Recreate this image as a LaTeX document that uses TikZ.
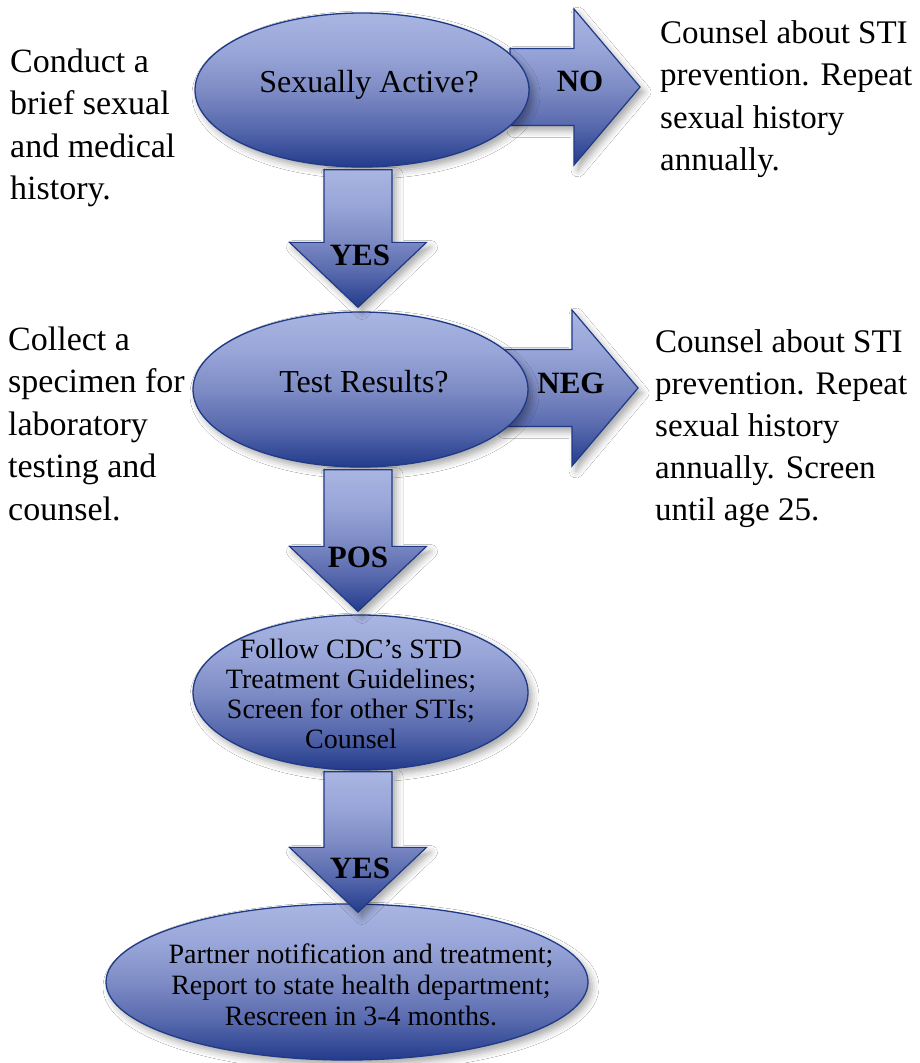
\documentclass[tikz,border=0pt]{standalone}
\usepackage{fontspec}
\setmainfont{Liberation Serif}
\usetikzlibrary{shapes.geometric,calc,shadows.blur}
\definecolor{gA}{HTML}{A9B5E1}
\definecolor{gB}{HTML}{98A5D8}
\definecolor{gC}{HTML}{7E8CC5}
\definecolor{gD}{HTML}{5567AC}
\definecolor{gE}{HTML}{233B8B}
\definecolor{bord}{HTML}{1F3A86}
\pgfdeclareverticalshading{bluegrad}{100bp}{color(0bp)=(gE); color(25bp)=(gE); color(37bp)=(gD); color(50bp)=(gC); color(62bp)=(gB); color(75bp)=(gA); color(100bp)=(gA)}
\tikzset{
  myshadow/.style={blur shadow={shadow xshift=4pt, shadow yshift=-5pt, shadow blur radius=7pt, shadow opacity=35}},
  ell/.style={ellipse, draw=bord, line width=1.3pt, shade, shading=bluegrad, inner sep=0pt, myshadow},
  block/.style={draw=bord, line width=1.2pt, line join=miter, shade, shading=bluegrad, myshadow},
  side/.style={anchor=north west, inner sep=0pt, align=left, font=\fontsize{34}{42.5}\selectfont},
  lab/.style={anchor=base, inner sep=0pt, font=\fontsize{31}{31}\selectfont\bfseries},
  etxt/.style={anchor=base, inner sep=0pt, font=\fontsize{32}{32}\selectfont},
  mtxt/.style={anchor=north, inner sep=0pt, align=center},
}
\newcommand\downblock[2]{%
  \path[block] let \p1=#1, \p2=#2 in
    (\x1-34pt,\y1) -- (\x1+34pt,\y1) -- (\x1+34pt,\y2+65pt) -- (\x1+68.5pt,\y2+65pt)
    -- (\x1,\y2) -- (\x1-68.5pt,\y2+65pt) -- (\x1-34pt,\y2+65pt) -- cycle;}
\newcommand\rightblock[2]{%
  \path[block] let \p1=#1, \p2=#2 in
    (\x1,\y1+38.5pt) -- (\x2-66pt,\y1+38.5pt) -- (\x2-66pt,\y1+78pt) -- (\x2,\y1)
    -- (\x2-66pt,\y1-78pt) -- (\x2-66pt,\y1-38.5pt) -- (\x1,\y1-38.5pt) -- cycle;}
\begin{document}
\begin{tikzpicture}[x=1pt,y=-1pt]
\fill[white] (0,0) rectangle (919,1063);
\useasboundingbox (0,0) rectangle (919,1063);

% ellipse centres
\coordinate (c1) at (362,90);
\coordinate (c2) at (360.5,389.5);
\coordinate (c3) at (360.5,692.5);
\coordinate (c4) at (347,982);

% sideways block arrows (drawn first, behind the ellipses)
\rightblock{($(c1)+(148,-3)$)}{($(c1)+(278,-3)$)}
\rightblock{($(c2)+(140,-1.5)$)}{($(c2)+(277.5,-1.5)$)}

% ellipses
\node[ell, minimum width=334pt, minimum height=154pt] (e1) at (c1) {};
\node[ell, minimum width=335pt, minimum height=155pt] (e2) at (c2) {};
\node[ell, minimum width=335pt, minimum height=155pt] (e3) at (c3) {};
\node[ell, minimum width=482pt, minimum height=156pt] (e4) at (c4) {};

% downward block arrows
\downblock{($(e1.south)+(-4,2)$)}{($(e1.south |- e2.north)+(-4,-4)$)}
\downblock{($(e2.south)+(-2.5,2)$)}{($(e2.south |- e3.north)+(-2.5,-3)$)}
\downblock{($(e3.south)+(-2.5,1)$)}{($(e3.south |- e4.north)+(-2.5,9)$)}

% texts inside ellipses
\node[etxt] (t1) at (369,92) {Sexually Active?};
\node[etxt] (t2) at (364,392) {Test Results?};
\node[mtxt, font=\fontsize{28}{30}\selectfont] (t3) at (351,639) {Follow CDC’s STD\\Treatment Guidelines;\\Screen for other STIs;\\Counsel};
\node[mtxt, font=\fontsize{28}{31}\selectfont] (t4) at (361,944) {Partner notification and treatment;\\Report to state health department;\\Rescreen in 3-4 months.};

% arrow labels
\node[lab] (no) at (580,91) {NO};
\node[lab] (neg) at (571,393) {NEG};
\node[lab] (yes1) at (360,265) {YES};
\node[lab] (pos) at (358,567) {POS};
\node[lab] (yes2) at (360,878) {YES};

% side texts
\node[side] (l1) at (10,48.5) {Conduct a\\brief sexual\\and medical\\history.};
\node[side, font=\fontsize{33}{42.5}\selectfont] (r1) at (660,20) {Counsel about STI\\prevention. Repeat\\sexual history\\annually.};
\node[side] (l2) at (8,326.5) {Collect a\\specimen for\\laboratory\\testing and\\counsel.};
\node[side, font=\fontsize{33}{42}\selectfont] (r2) at (655,329) {Counsel about STI\\prevention. Repeat\\sexual history\\annually. Screen\\until age 25.};
\end{tikzpicture}
\end{document}
